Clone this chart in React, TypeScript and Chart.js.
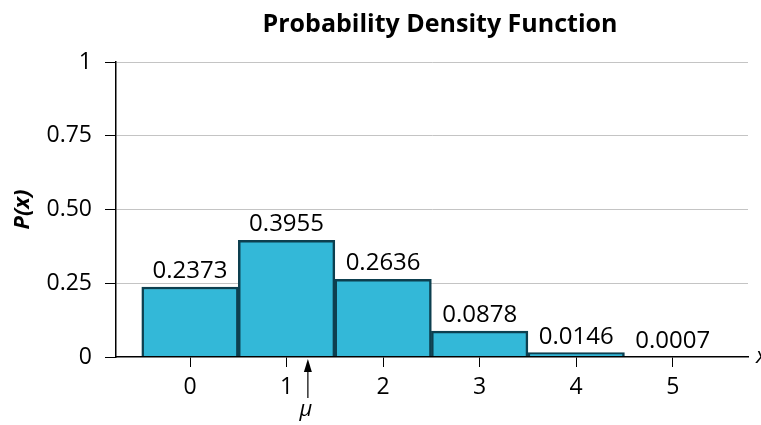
import React, { useEffect, useRef } from "react";
import { Chart, registerables } from "chart.js";

Chart.register(...registerables);

const xValues = [0, 1, 2, 3, 4, 5];
const probabilities = [0.2373, 0.3955, 0.2636, 0.0878, 0.0146, 0.0007];
const valueLabels = ["0.2373", "0.3955", "0.2636", "0.0878", "0.0146", "0.0007"];
const yTickValues = [0, 0.25, 0.5, 0.75, 1];
const yTickLabels = ["0", "0.25", "0.50", "0.75", "1"];
const meanValue = 1.2;
const titleText = "Probability Density Function";
const yAxisTitle = "P(x)";
const xAxisTitle = "x";

const FONT = "'Open Sans', 'Noto Sans', sans-serif";

const overlayPlugin = {
  id: "overlay",
  afterDraw(chart: any) {
    const ctx = chart.ctx;
    const xs = chart.scales.x;
    const ys = chart.scales.y;
    const area = chart.chartArea;
    ctx.save();
    // title
    ctx.fillStyle = "#000";
    ctx.font = `bold 25px ${FONT}`;
    ctx.textAlign = "center";
    ctx.textBaseline = "alphabetic";
    ctx.fillText(titleText, (area.left + area.right) / 2 + 8, 32);
    // value labels
    ctx.font = `24px ${FONT}`;
    ctx.textBaseline = "alphabetic";
    probabilities.forEach((v, i) => {
      const px = xs.getPixelForValue(xValues[i]);
      const py = ys.getPixelForValue(v);
      ctx.fillText(valueLabels[i], px, py - 9);
    });
    // y axis title
    ctx.save();
    ctx.translate(23, (area.top + area.bottom) / 2);
    ctx.rotate(-Math.PI / 2);
    ctx.font = `italic bold 22px ${FONT}`;
    ctx.textAlign = "center";
    ctx.textBaseline = "middle";
    ctx.fillText(yAxisTitle, 0, 0);
    ctx.restore();
    // x axis title (cut off at edge)
    ctx.font = `italic 22px ${FONT}`;
    ctx.textAlign = "left";
    ctx.textBaseline = "middle";
    ctx.fillText(xAxisTitle, area.right + 8, area.bottom);
    // mean arrow
    const mx = xs.getPixelForValue(meanValue) + 2;
    const top = area.bottom + 2;
    ctx.strokeStyle = "#000";
    ctx.lineWidth = 1.2;
    ctx.beginPath();
    ctx.moveTo(mx, top + 10);
    ctx.lineTo(mx, area.bottom + 41);
    ctx.stroke();
    ctx.beginPath();
    ctx.moveTo(mx, top);
    ctx.lineTo(mx - 4, top + 13);
    ctx.lineTo(mx + 4, top + 13);
    ctx.closePath();
    ctx.fillStyle = "#000";
    ctx.fill();
    ctx.font = `italic 22px ${FONT}`;
    ctx.textAlign = "center";
    ctx.textBaseline = "alphabetic";
    ctx.fillText("\u03bc", mx - 2, area.bottom + 59);
    ctx.restore();
  },
};

export default function App() {
  const canvasRef = useRef<HTMLCanvasElement | null>(null);
  useEffect(() => {
    document.body.style.margin = "0";
    const canvas = canvasRef.current;
    if (!canvas) return;
    const chart = new Chart(canvas, {
      type: "bar",
      data: {
        datasets: [
          {
            data: xValues.map((x, i) => ({ x, y: probabilities[i] })),
            backgroundColor: "#33b8d8",
            borderColor: "#0d3f4f",
            borderWidth: 2.5,
            barPercentage: 1,
            categoryPercentage: 1,
          },
        ],
      },
      options: {
        animation: false,
        responsive: false,
        maintainAspectRatio: false,
        layout: { padding: { top: 62, right: 13, left: 0, bottom: 0 } },
        plugins: {
          legend: { display: false },
          tooltip: { enabled: false },
          title: { display: false },
        },
        scales: {
          x: {
            type: "linear",
            offset: false,
            min: -0.767,
            max: 5.78,
            afterBuildTicks(scale: any) {
              scale.ticks = xValues.map((v) => ({ value: v }));
            },
            afterFit(scale: any) {
              scale.height = 68;
            },
            border: { display: true, color: "#000", width: 1.5, z: 1 },
            grid: {
              offset: false,
              drawOnChartArea: false,
              drawTicks: true,
              tickLength: 10,
              tickColor: "#000",
              tickWidth: 1,
            },
            ticks: {
              color: "#000",
              font: { family: FONT, size: 23 },
              padding: 7,
              maxRotation: 0,
              callback: (v: any) => String(v),
            },
          },
          y: {
            type: "linear",
            min: 0,
            max: 1,
            afterBuildTicks(scale: any) {
              scale.ticks = yTickValues.map((v) => ({ value: v }));
            },
            afterFit(scale: any) {
              scale.width = 116;
            },
            border: { display: true, color: "#000", width: 1.5 },
            grid: {
              color: (c: any) => (c.tick && c.tick.value === 0 ? "rgba(0,0,0,0)" : "#c4c4c4"),
              lineWidth: 1,
              drawTicks: true,
              tickLength: 11,
              tickColor: "#000",
              tickWidth: 1,
            },
            ticks: {
              color: "#000",
              font: { family: FONT, size: 23 },
              padding: 13,
              callback: (v: any) => {
                const idx = yTickValues.indexOf(v);
                return idx >= 0 ? yTickLabels[idx] : "";
              },
            },
          },
        },
      },
      plugins: [overlayPlugin],
    } as any);
    return () => chart.destroy();
  }, []);
  return (
    <div style={{ width: 761, height: 425, background: "#fff" }}>
      <canvas ref={canvasRef} width={761} height={425} style={{ display: "block" }} />
    </div>
  );
}
